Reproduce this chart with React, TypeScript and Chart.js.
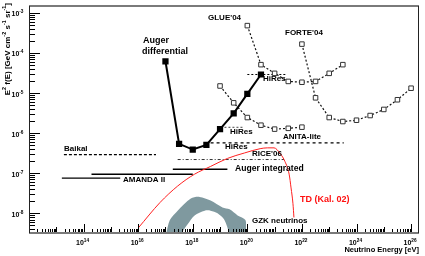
import React, { useEffect, useRef } from 'react';
import { Chart, registerables } from 'chart.js';

Chart.register(...registerables);

const FONT = '"Liberation Sans", Arial, Helvetica, sans-serif';

// ---- data: E [eV] vs E^2 f(E) [GeV cm^-2 s^-1 sr^-1]
const augerDiffE = [1e17, 3.16e17, 1e18, 3.16e18, 1e19, 3.16e19, 1e20, 3.16e20];
const augerDiffF = [6.2e-5, 5.4e-7, 3.9e-7, 5.1e-7, 1.26e-6, 3.1e-6, 9.5e-6, 2.9e-5];

const glueE = [1e20, 3.16e20, 1e21, 3.16e21, 1e22, 3.16e22, 1e23, 3.16e23];
const glueF = [4.8e-4, 5.1e-5, 3.1e-5, 1.95e-5, 1.86e-5, 1.95e-5, 3.1e-5, 5.1e-5];

const forteE = [1e22, 3.16e22, 1e23, 3.16e23, 1e24, 3.16e24, 1e25, 3.16e25, 1e26];
const forteF = [1.66e-4, 7.6e-6, 2.45e-6, 1.95e-6, 2.1e-6, 2.75e-6, 3.9e-6, 6.8e-6, 1.32e-5];

const anitaCurveE = [1e19, 3.16e19, 1e20, 3.16e20, 1e21, 3.16e21, 1e22];
const anitaCurveF = [1.5e-5, 5.7e-6, 2.45e-6, 1.58e-6, 1.26e-6, 1.32e-6, 1.41e-6];

const hires1E = [1e20, 2.8e21];
const hires1F = [2.9e-5, 2.9e-5];
const hires2E = [1.45e19, 7.8e19];
const hires2F = [1.4e-6, 1.4e-6];
const anitaLiteE = [4.5e18, 3.4e23];
const anitaLiteF = [5.75e-7, 5.75e-7];
const riceE = [2.8e17, 2.2e21];
const riceF = [2.2e-7, 2.2e-7];
const augerIntE = [1.86e17, 1.86e19];
const augerIntF = [1.26e-7, 1.26e-7];
const baikalE = [1.9e13, 4.5e16];
const baikalF = [2.9e-7, 2.9e-7];
const amandaAE = [1.95e14, 1e18];
const amandaAF = [9.5e-8, 9.5e-8];
const amandaBE = [1.6e13, 2.2e15];
const amandaBF = [7.6e-8, 7.6e-8];

const tdE = [1e16, 6.3e16, 2.8e17, 1.17e18, 4.5e18, 1.86e19, 7.8e19, 2.95e20, 5.4e20, 9.5e20, 1.6e21, 2.4e21, 3.4e21, 4e21, 4.7e21, 5.1e21];
const tdF = [4.3e-9, 1.86e-8, 4.8e-8, 9.5e-8, 1.48e-7, 2.34e-7, 3.2e-7, 4.1e-7, 4.3e-7, 4.3e-7, 3.1e-7, 1.95e-7, 9.5e-8, 4.3e-8, 1.74e-8, 7.9e-9];

const gzkOuterE = [1.05e17, 1.45e17, 2.8e17, 8.5e17, 1.78e18, 4.5e18, 1.23e19, 2.24e19, 4.4e19, 8.5e19, 8.9e19];
const gzkOuterF = [3e-9, 6.8e-9, 1.17e-8, 2.34e-8, 2.57e-8, 2.09e-8, 1.41e-8, 1.26e-8, 8.9e-9, 6.8e-9, 3e-9];
const gzkInnerE = [3.6e17, 6.6e17, 1.17e18, 2.75e18, 4.5e18, 8.1e18, 1.45e19, 2.24e19];
const gzkInnerF = [3e-9, 5.4e-9, 8.9e-9, 1.17e-8, 1.17e-8, 1e-8, 6.8e-9, 3e-9];

const xDecades = [12, 13, 14, 15, 16, 17, 18, 19, 20, 21, 22, 23, 24, 25, 26];
const xLabelDecades = [14, 16, 18, 20, 22, 24, 26];
const yDecades = [-9, -8, -7, -6, -5, -4, -3];
const yLabelDecades = [-8, -7, -6, -5, -4, -3];

const pts = (xs: number[], ys: number[]) => xs.map((x, i) => ({ x, y: ys[i] }));

type Part = [string, boolean];
function rich(ctx: CanvasRenderingContext2D, parts: Part[], x: number, y: number, size: number, align: string, color = '#000') {
  const sup = size * 0.68;
  const widths = parts.map(([t, s]) => {
    ctx.font = `bold ${s ? sup : size}px ${FONT}`;
    return ctx.measureText(t).width;
  });
  const total = widths.reduce((a, b) => a + b, 0);
  let cx = align === 'left' ? x : align === 'right' ? x - total : x - total / 2;
  ctx.textAlign = 'left';
  ctx.textBaseline = 'alphabetic';
  ctx.fillStyle = color;
  parts.forEach(([t, s], i) => {
    ctx.font = `bold ${s ? sup : size}px ${FONT}`;
    ctx.fillText(t, cx, s ? y - size * 0.42 : y);
    cx += widths[i];
  });
}

const labels = [
  { t: 'Auger', x: 143, y: 43, s: 9, c: '#000' },
  { t: 'differential', x: 142, y: 53.5, s: 9, c: '#000' },
  { t: "GLUE'04", x: 208, y: 20, s: 8, c: '#000' },
  { t: "FORTE'04", x: 285, y: 35, s: 8, c: '#000' },
  { t: 'HiRes', x: 263, y: 81, s: 8, c: '#000' },
  { t: 'HiRes', x: 230, y: 134, s: 8, c: '#000' },
  { t: 'HiRes', x: 225, y: 149, s: 8, c: '#000' },
  { t: 'ANITA-lite', x: 283, y: 139, s: 8, c: '#000' },
  { t: "RICE'06", x: 252, y: 156, s: 8, c: '#000' },
  { t: 'Auger integrated', x: 235, y: 171, s: 8.6, c: '#000' },
  { t: 'Baikal', x: 64, y: 151, s: 8, c: '#000' },
  { t: 'AMANDA II', x: 123, y: 182, s: 8, c: '#000' },
  { t: 'TD (Kal. 02)', x: 300, y: 202, s: 9, c: '#ff1010' },
  { t: 'GZK neutrinos', x: 252, y: 223, s: 8, c: '#000' },
];

const rootPlugin = {
  id: 'rootLook',
  afterDatasetsDraw(chart: any) {
    const { ctx, chartArea: a, scales } = chart;
    const xs = scales.x, ys = scales.y;
    ctx.save();
    ctx.strokeStyle = '#000';
    ctx.lineWidth = 1;
    for (const d of xDecades) {
      for (let m = 1; m <= 9; m++) {
        const v = m * Math.pow(10, d);
        const px = xs.getPixelForValue(v);
        if (px < a.left || px > a.right) continue;
        const len = m === 1 ? (d % 2 === 0 ? 9 : 6) : 4;
        const p = Math.round(px) + 0.5;
        ctx.beginPath();
        ctx.moveTo(p, a.bottom);
        ctx.lineTo(p, a.bottom - len);
        ctx.stroke();
      }
    }
    for (const d of yDecades) {
      for (let m = 1; m <= 9; m++) {
        const v = m * Math.pow(10, d);
        const py = ys.getPixelForValue(v);
        if (py < a.top || py > a.bottom) continue;
        const len = m === 1 ? 11 : 6;
        const p = Math.round(py) + 0.5;
        ctx.beginPath();
        ctx.moveTo(a.left, p);
        ctx.lineTo(a.left + len, p);
        ctx.stroke();
      }
    }
    ctx.strokeStyle = '#7a7a7a';
    ctx.lineWidth = 2;
    ctx.beginPath();
    ctx.moveTo(a.left, a.top);
    ctx.lineTo(a.right, a.top);
    ctx.moveTo(a.left, a.bottom);
    ctx.lineTo(a.right, a.bottom);
    ctx.stroke();
    ctx.strokeStyle = '#222';
    ctx.lineWidth = 1;
    ctx.beginPath();
    ctx.moveTo(a.left + 0.5, a.top);
    ctx.lineTo(a.left + 0.5, a.bottom);
    ctx.moveTo(a.right - 0.5, a.top);
    ctx.lineTo(a.right - 0.5, a.bottom);
    ctx.stroke();
    ctx.restore();
  },
  afterDraw(chart: any) {
    const { ctx, chartArea: a, scales } = chart;
    const xs = scales.x, ys = scales.y;
    ctx.save();
    for (const d of yLabelDecades) {
      const py = ys.getPixelForValue(Math.pow(10, d));
      rich(ctx, [['10', false], [String(d), true]], 11.5, py + 3.5, 7, 'left');
    }
    for (const d of xLabelDecades) {
      const px = xs.getPixelForValue(Math.pow(10, d));
      rich(ctx, [['10', false], [String(d), true]], px - 1, a.bottom + 11.5, 7, 'center');
    }
    rich(ctx, [['Neutrino Energy [eV]', false]], a.right, a.bottom + 19, 7.5, 'right');
    ctx.save();
    ctx.translate(9.5, 3);
    ctx.rotate(-Math.PI / 2);
    rich(ctx, [['E', false], ['2', true], [' f(E) [GeV cm', false], ['-2', true], [' s', false], ['-1', true], [' sr', false], ['-1', true], [']', false]], 0, 0, 8, 'right');
    ctx.restore();
    for (const l of labels) rich(ctx, [[l.t, false]], l.x, l.y, l.s, 'left', l.c);
    ctx.restore();
  },
};

export default function App() {
  const ref = useRef<HTMLCanvasElement>(null);
  useEffect(() => {
    if (!ref.current) return;
    const hline = (xs: number[], ys: number[], dash: number[], width: number, color = '#000') => ({
      data: pts(xs, ys), borderColor: color, borderWidth: width, borderDash: dash, pointRadius: 0, fill: false,
    });
    const openSq = (xs: number[], ys: number[]) => ({
      data: pts(xs, ys), borderColor: '#111', borderWidth: 1.2, borderDash: [2, 2], pointRadius: 3.2,
      pointStyle: 'rect', pointBackgroundColor: '#fff', pointBorderColor: '#333', pointBorderWidth: 1, fill: false,
    });
    const chart = new Chart(ref.current, {
      type: 'line',
      data: {
        datasets: [
          { data: pts(tdE, tdF), borderColor: '#ff2020', borderWidth: 1, pointRadius: 0, tension: 0.4, cubicInterpolationMode: 'monotone', fill: false },
          { data: pts(augerDiffE, augerDiffF), borderColor: '#000', borderWidth: 2, pointRadius: 3, pointStyle: 'rect', pointBackgroundColor: '#000', pointBorderColor: '#000', fill: false },
          openSq(glueE, glueF),
          openSq(forteE, forteF),
          openSq(anitaCurveE, anitaCurveF),
          hline(hires1E, hires1F, [2, 2], 1),
          hline(hires2E, hires2F, [2, 2], 1, '#444'),
          hline(anitaLiteE, anitaLiteF, [3, 3], 1.2),
          hline(riceE, riceF, [3, 2, 1, 2], 1, '#333'),
          hline(augerIntE, augerIntF, [], 1.5),
          hline(baikalE, baikalF, [3, 2], 1.2),
          hline(amandaAE, amandaAF, [], 1.5),
          hline(amandaBE, amandaBF, [], 1.2),
          { data: pts(gzkInnerE, gzkInnerF), borderWidth: 0, borderColor: 'rgba(0,0,0,0)', backgroundColor: '#fff', pointRadius: 0, tension: 0.3, fill: 'start' },
          { data: pts(gzkOuterE, gzkOuterF), borderWidth: 0, borderColor: 'rgba(0,0,0,0)', backgroundColor: '#7f999f', pointRadius: 0, tension: 0.3, fill: 'start' },
        ] as any,
      },
      options: {
        responsive: false,
        animation: false,
        devicePixelRatio: 1,
        layout: { padding: { left: 29, right: 2, top: 1, bottom: 23 } },
        scales: {
          x: { type: 'logarithmic', min: 1e12, max: 1.95e26, display: false },
          y: { type: 'logarithmic', min: 3.24e-9, max: 1.48e-3, display: false },
        },
        plugins: { legend: { display: false }, tooltip: { enabled: false } },
      } as any,
      plugins: [rootPlugin],
    });
    return () => chart.destroy();
  }, []);
  return (
    <div style={{ position: 'absolute', left: 0, top: 0, width: 425, height: 256, background: '#fff' }}>
      <canvas ref={ref} width={425} height={256} style={{ width: 425, height: 256 }} />
    </div>
  );
}
